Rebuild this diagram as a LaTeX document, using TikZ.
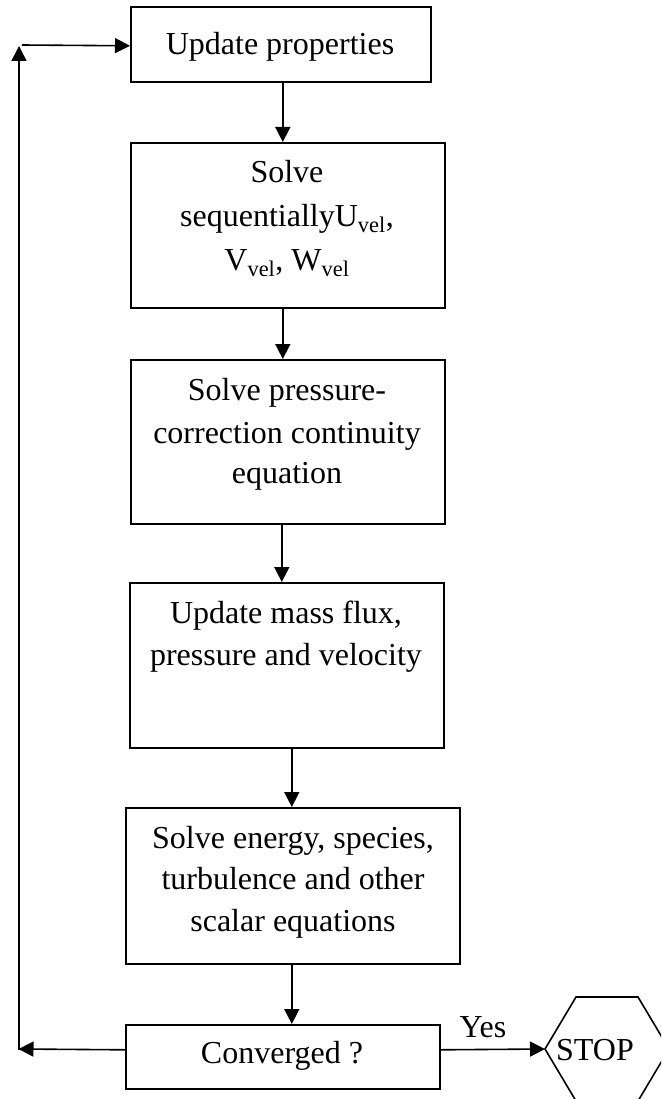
\documentclass[tikz,border=0pt]{standalone}
\usepackage{fontspec}
\setmainfont{Liberation Serif}
\usetikzlibrary{arrows.meta}
\begin{document}
\begin{tikzpicture}[x=1pt,y=-1pt,
  box/.style={draw, line width=1.6pt, anchor=north west, inner sep=0pt},
  txt/.style={font=\fontsize{32}{42}\selectfont, anchor=base, inner sep=0pt},
  ln/.style={line width=1.6pt},
  arr/.style={line width=1.6pt, -{Triangle[length=15pt,width=15pt]}}]
\useasboundingbox (0,0) rectangle (661,1099);
\clip (0,0) rectangle (661,1099);
% boxes
\node[box, minimum width=300pt, minimum height=75pt] (b1) at (130,6) {};
\node[box, minimum width=314pt, minimum height=165pt] (b2) at (130,142) {};
\node[box, minimum width=314pt, minimum height=164pt] (b3) at (130,359) {};
\node[box, minimum width=314pt, minimum height=165pt] (b4) at (129,582) {};
\node[box, minimum width=334pt, minimum height=156pt] (b5) at (125,807) {};
\node[box, minimum width=314pt, minimum height=64pt] (b6) at (125,1024) {};
% texts
\node[txt] (t1) at (280,55) {Update properties};
\node[txt] (t2a) at (287,183) {Solve};
\node[txt] (t2b) at (287,226) {sequentiallyU\textsubscript{vel},};
\node[txt] (t2c) at (287,270) {V\textsubscript{vel}, W\textsubscript{vel}};
\node[txt] (t3a) at (287,400) {Solve pressure-};
\node[txt] (t3b) at (287,443) {correction continuity};
\node[txt] (t3c) at (287,483) {equation};
\node[txt] (t4a) at (286,623) {Update mass flux,};
\node[txt] (t4b) at (286,665) {pressure and velocity};
\node[txt] (t5a) at (293,848) {Solve energy, species,};
\node[txt] (t5b) at (293,889) {turbulence and other};
\node[txt] (t5c) at (293,931) {scalar equations};
\node[txt] (t6) at (282,1063) {Converged ?};
\node[txt] (yes) at (483,1037) {Yes};
% hexagon
\coordinate (hexL) at (545,1049);
\draw[ln] (hexL) -- (576,997) -- (638,997) -- (669,1049) -- (638,1101) -- (576,1101) -- cycle;
\node[txt] (stop) at (595,1060) {STOP};
% vertical connectors
\draw[arr] ([xshift=2pt]b1.south) -- ([xshift=2pt]b1.south |- b2.north);
\draw[arr] ([xshift=-5pt]b2.south) -- ([xshift=-5pt]b2.south |- b3.north);
\draw[arr] ([xshift=-6pt]b3.south) -- ([xshift=-6pt]b3.south |- b4.north);
\draw[arr] ([xshift=5pt]b4.south) -- ([xshift=5pt]b4.south |- b5.north);
\draw[arr] ([xshift=-1pt]b5.south) -- ([xshift=-1pt]b5.south |- b6.north);
% yes arrow
\draw[arr] ([yshift=7pt]b6.east) -- (hexL);
% loop back
\coordinate (loopbot) at (18.5,1049);
\coordinate (loopvb) at (19,1050);
\coordinate (looptop) at (19,46);
\coordinate (loopstart) at (22,45);
\draw[arr] ([yshift=7pt]b6.west) -- (loopbot);
\draw[arr] (loopvb) -- (looptop);
\draw[arr] (loopstart) -- ([yshift=-1.5pt]b1.west);
\end{tikzpicture}
\end{document}
